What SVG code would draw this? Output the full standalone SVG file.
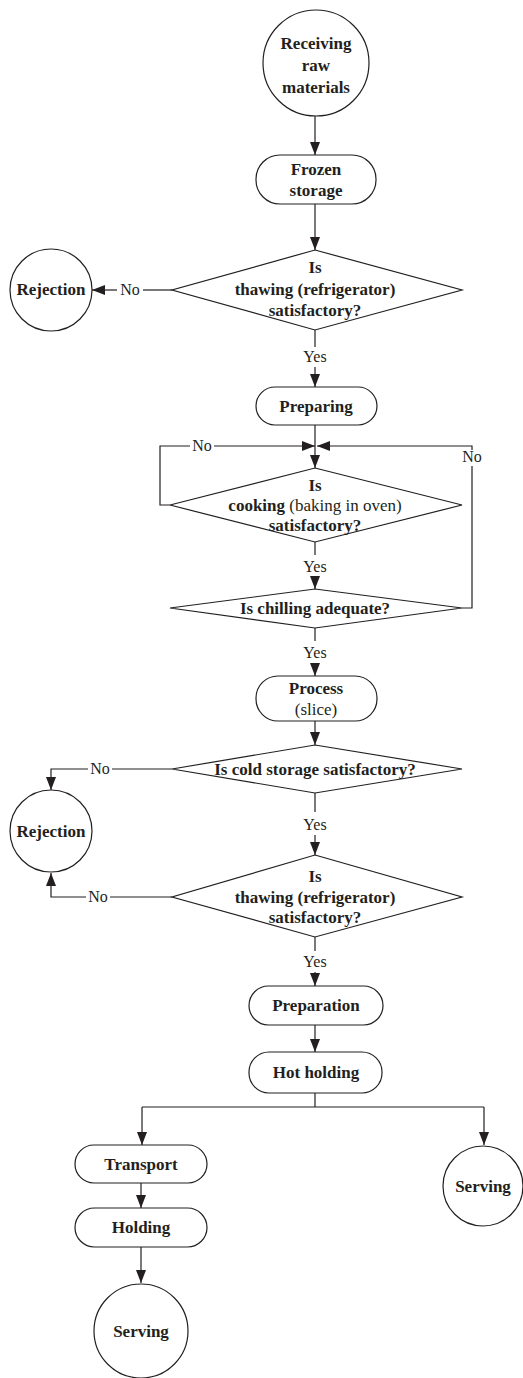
<svg xmlns="http://www.w3.org/2000/svg" width="523" height="1378" viewBox="0 0 523 1378">
<defs>
<marker id="arr" viewBox="0 0 13 10" refX="13" refY="5" markerWidth="13" markerHeight="10" markerUnits="userSpaceOnUse" orient="auto">
<path d="M0,0 L13,5 L0,10 z" fill="#231f20"/>
</marker>
<style>
.shape{fill:#fff;stroke:#231f20;stroke-width:1.2}
.t{font-family:"Liberation Serif","Times New Roman",serif;font-size:17px;font-weight:bold;fill:#231f20;text-anchor:middle}
.r{font-weight:normal}
.lbl{font-family:"Liberation Serif","Times New Roman",serif;font-size:16px;fill:#231f20;text-anchor:middle}
.c{fill:none;stroke:#231f20;stroke-width:1.2}
.a{marker-end:url(#arr)}
</style>
</defs>
<rect width="523" height="1378" fill="#fff"/>
<g id="connectors">
<path class="c a" d="M315,116 L315,155"/>
<path class="c a" d="M315,204 L315,250"/>
<path class="c" d="M172,290 L143,290"/>
<path class="c a" d="M117,290 L92,290"/>
<text class="lbl" x="130" y="295">No</text>
<path class="c" d="M315,330 L315,347"/>
<text class="lbl" x="315" y="362">Yes</text>
<path class="c a" d="M315,367 L315,387"/>
<path class="c" d="M315,425 L315,446"/>
<path class="c a" d="M315,446 L315,468"/>
<path class="c" d="M170,505 L160,505 L160,446 L190,446"/>
<text class="lbl" x="202" y="451">No</text>
<path class="c a" d="M214,446 L315,446"/>
<path class="c" d="M315,542 L315,555"/>
<text class="lbl" x="315" y="572">Yes</text>
<path class="c a" d="M315,577 L315,589"/>
<path class="c" d="M462,608 L472,608 L472,466"/>
<text class="lbl" x="472" y="462">No</text>
<path class="c a" d="M472,450 L472,446 L317,446"/>
<path class="c" d="M315,628 L315,641"/>
<text class="lbl" x="315" y="658">Yes</text>
<path class="c a" d="M315,663 L315,676"/>
<path class="c a" d="M315,721 L315,745"/>
<path class="c" d="M172,769 L112,769"/>
<text class="lbl" x="100" y="774">No</text>
<path class="c a" d="M88,769 L51,769 L51,790"/>
<path class="c" d="M315,793 L315,812"/>
<text class="lbl" x="315" y="830">Yes</text>
<path class="c a" d="M315,835 L315,855"/>
<path class="c" d="M172,897 L110,897"/>
<text class="lbl" x="98" y="902">No</text>
<path class="c a" d="M86,897 L51,897 L51,873"/>
<path class="c" d="M315,937 L315,951"/>
<text class="lbl" x="315" y="967">Yes</text>
<path class="c a" d="M315,972 L315,986"/>
<path class="c a" d="M315,1025 L315,1052"/>
<path class="c" d="M315,1093 L315,1107 M142,1107 L484,1107"/>
<path class="c a" d="M142,1107 L142,1145"/>
<path class="c a" d="M484,1107 L484,1145"/>
<path class="c a" d="M141,1183 L141,1208"/>
<path class="c a" d="M141,1247 L141,1283"/>
</g>
<g id="receiving">
<circle class="shape" cx="316" cy="63" r="53"/>
<text class="t" x="316" y="49">Receiving</text>
<text class="t" x="316" y="71">raw</text>
<text class="t" x="316" y="93">materials</text>
</g>
<g id="frozen">
<rect class="shape" x="256" y="155" width="120" height="49" rx="24"/>
<text class="t" x="316" y="175">Frozen</text>
<text class="t" x="316" y="196">storage</text>
</g>
<g id="thawing1">
<polygon class="shape" points="315,250 462,290 315,330 172,290"/>
<text class="t" x="315" y="273">Is</text>
<text class="t" x="315" y="295">thawing (refrigerator)</text>
<text class="t" x="315" y="316">satisfactory?</text>
</g>
<g id="rejection1">
<circle class="shape" cx="51" cy="290" r="41"/>
<text class="t" x="51" y="295">Rejection</text>
</g>
<g id="preparing">
<rect class="shape" x="256" y="387" width="121" height="38" rx="19"/>
<text class="t" x="316" y="412">Preparing</text>
</g>
<g id="cooking">
<polygon class="shape" points="315,468 462,505 315,542 170,505"/>
<text class="t" x="315" y="491">Is</text>
<text class="t" x="315" y="511">cooking<tspan class="r"> (baking in oven)</tspan></text>
<text class="t" x="315" y="531">satisfactory?</text>
</g>
<g id="chilling">
<polygon class="shape" points="315,589 462,608 315,628 170,608"/>
<text class="t" x="315" y="614">Is chilling adequate?</text>
</g>
<g id="process">
<rect class="shape" x="256" y="676" width="121" height="45" rx="22"/>
<text class="t" x="316" y="694">Process</text>
<text class="t r" x="316" y="715">(slice)</text>
</g>
<g id="coldstorage">
<polygon class="shape" points="315,745 462,769 315,793 172,769"/>
<text class="t" x="315" y="775">Is cold storage satisfactory?</text>
</g>
<g id="rejection2">
<circle class="shape" cx="51" cy="831" r="41"/>
<text class="t" x="51" y="837">Rejection</text>
</g>
<g id="thawing2">
<polygon class="shape" points="315,855 462,897 315,937 172,897"/>
<text class="t" x="315" y="882">Is</text>
<text class="t" x="315" y="903">thawing (refrigerator)</text>
<text class="t" x="315" y="923">satisfactory?</text>
</g>
<g id="preparation">
<rect class="shape" x="249" y="986" width="134" height="39" rx="19.5"/>
<text class="t" x="316" y="1011">Preparation</text>
</g>
<g id="hotholding">
<rect class="shape" x="249" y="1052" width="133" height="41" rx="20"/>
<text class="t" x="316" y="1078">Hot holding</text>
</g>
<g id="transport">
<rect class="shape" x="75" y="1145" width="132" height="38" rx="19"/>
<text class="t" x="141" y="1170">Transport</text>
</g>
<g id="serving1">
<circle class="shape" cx="483" cy="1186" r="40"/>
<text class="t" x="483" y="1192">Serving</text>
</g>
<g id="holding">
<rect class="shape" x="75" y="1208" width="132" height="39" rx="19.5"/>
<text class="t" x="141" y="1233">Holding</text>
</g>
<g id="serving2">
<circle class="shape" cx="141" cy="1331" r="47"/>
<text class="t" x="141" y="1337">Serving</text>
</g>
</svg>
